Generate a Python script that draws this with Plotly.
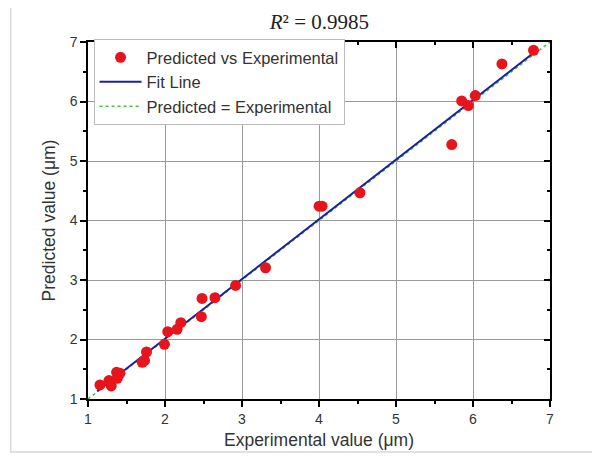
import plotly.graph_objects as go

# Data
experimental = [1.155, 1.272, 1.302, 1.371, 1.415, 1.38, 1.704, 1.734, 1.76, 1.993,
                2.036, 2.157, 2.205, 2.472, 2.481, 2.649, 2.917, 3.306, 4.001, 4.04,
                4.532, 5.724, 5.853, 5.94, 6.03, 6.376, 6.786]
predicted = [1.236, 1.309, 1.219, 1.449, 1.432, 1.348, 1.617, 1.645, 1.79, 1.919,
             2.132, 2.171, 2.283, 2.383, 2.691, 2.702, 2.909, 3.206, 4.241, 4.241,
             4.465, 5.276, 6.01, 5.931, 6.099, 6.631, 6.86]
fit_x = [1.12, 6.78]
fit_y = [1.13, 6.81]
ident_x = [1.0, 7.0]
ident_y = [1.0, 7.0]
tick_vals = [1, 2, 3, 4, 5, 6, 7]

FONT = "Liberation Sans, Arial, sans-serif"

fig = go.Figure()
fig.add_trace(go.Scatter(x=ident_x, y=ident_y, mode="lines", name="Predicted = Experimental",
                         line=dict(color="#3cc83c", width=1.5, dash="dot"), legendrank=3))
fig.add_trace(go.Scatter(x=fit_x, y=fit_y, mode="lines", name="Fit Line",
                         line=dict(color="#1f1f9a", width=2), legendrank=2))
fig.add_trace(go.Scatter(x=experimental, y=predicted, mode="markers", name="Predicted vs Experimental",
                         marker=dict(color="#e8141c", size=11), legendrank=1))
# carrier for the mirrored top/right axes
fig.add_trace(go.Scatter(x=[None], y=[None], xaxis="x2", yaxis="y2", showlegend=False))

axis_common = dict(range=[1, 7], tickvals=tick_vals, showline=True, linecolor="black",
                   linewidth=1.5, zeroline=False, automargin=False)

fig.update_layout(
    width=600, height=457,
    margin=dict(l=79.5, r=57.5, t=33.7, b=66),
    paper_bgcolor="white", plot_bgcolor="white",
    font=dict(family=FONT, color="#333333"),
    title=dict(text="<i>R</i>\u00b2 = 0.9985", x=0.519, xanchor="center", y=0.97,
               yanchor="middle", font=dict(family="Liberation Serif, DejaVu Serif, serif",
                                         size=21, color="#222222")),
    xaxis=dict(**axis_common, ticks="outside", ticklen=6, tickwidth=1.5, tickcolor="black",
               showgrid=True, gridcolor="#9a9a9a", gridwidth=1,
               minor=dict(ticks="outside", ticklen=3, tickwidth=1.5, tickcolor="black", dtick=0.5,
                          tick0=1, showgrid=False),
               tickfont=dict(size=14, color="#333333"),
               title=dict(text="Experimental value (\u03bcm)", font=dict(size=17.5, color="#333333"),
                          standoff=8)),
    yaxis=dict(**axis_common, ticks="outside", ticklen=6, tickwidth=1.5, tickcolor="black",
               showgrid=True, gridcolor="#9a9a9a", gridwidth=1,
               minor=dict(ticks="outside", ticklen=3, tickwidth=1.5, tickcolor="black", dtick=0.5,
                          tick0=1, showgrid=False),
               tickfont=dict(size=14, color="#333333"),
               title=dict(text="Predicted value (\u03bcm)", font=dict(size=17.5, color="#333333"),
                          standoff=10)),
    xaxis2=dict(**axis_common, overlaying="x", side="top", anchor="y2", ticks="inside", ticklen=6,
                tickwidth=1.5, tickcolor="black", showticklabels=False, showgrid=False,
                minor=dict(ticks="inside", ticklen=3, tickwidth=1.5, tickcolor="black", dtick=0.5,
                           tick0=1)),
    yaxis2=dict(**axis_common, overlaying="y", side="right", anchor="x2", ticks="inside", ticklen=6,
                tickwidth=1.5, tickcolor="black", showticklabels=False, showgrid=False,
                minor=dict(ticks="inside", ticklen=3, tickwidth=1.5, tickcolor="black", dtick=0.5,
                           tick0=1)),
    legend=dict(x=0.012, y=1.008, xanchor="left", yanchor="top", bgcolor="white",
                bordercolor="#bbbbbb", borderwidth=1, font=dict(size=16.5, color="#333333"),
                tracegroupgap=0, itemclick=False, itemwidth=42),
    shapes=[dict(type="rect", xref="paper", yref="paper", x0=-0.1674, x1=1.2, y0=-0.1483, y1=1.1027,
                 line=dict(color="#d8d8d8", width=1.5), fillcolor="rgba(0,0,0,0)", layer="below")],
)

fig.write_html("out.html")
